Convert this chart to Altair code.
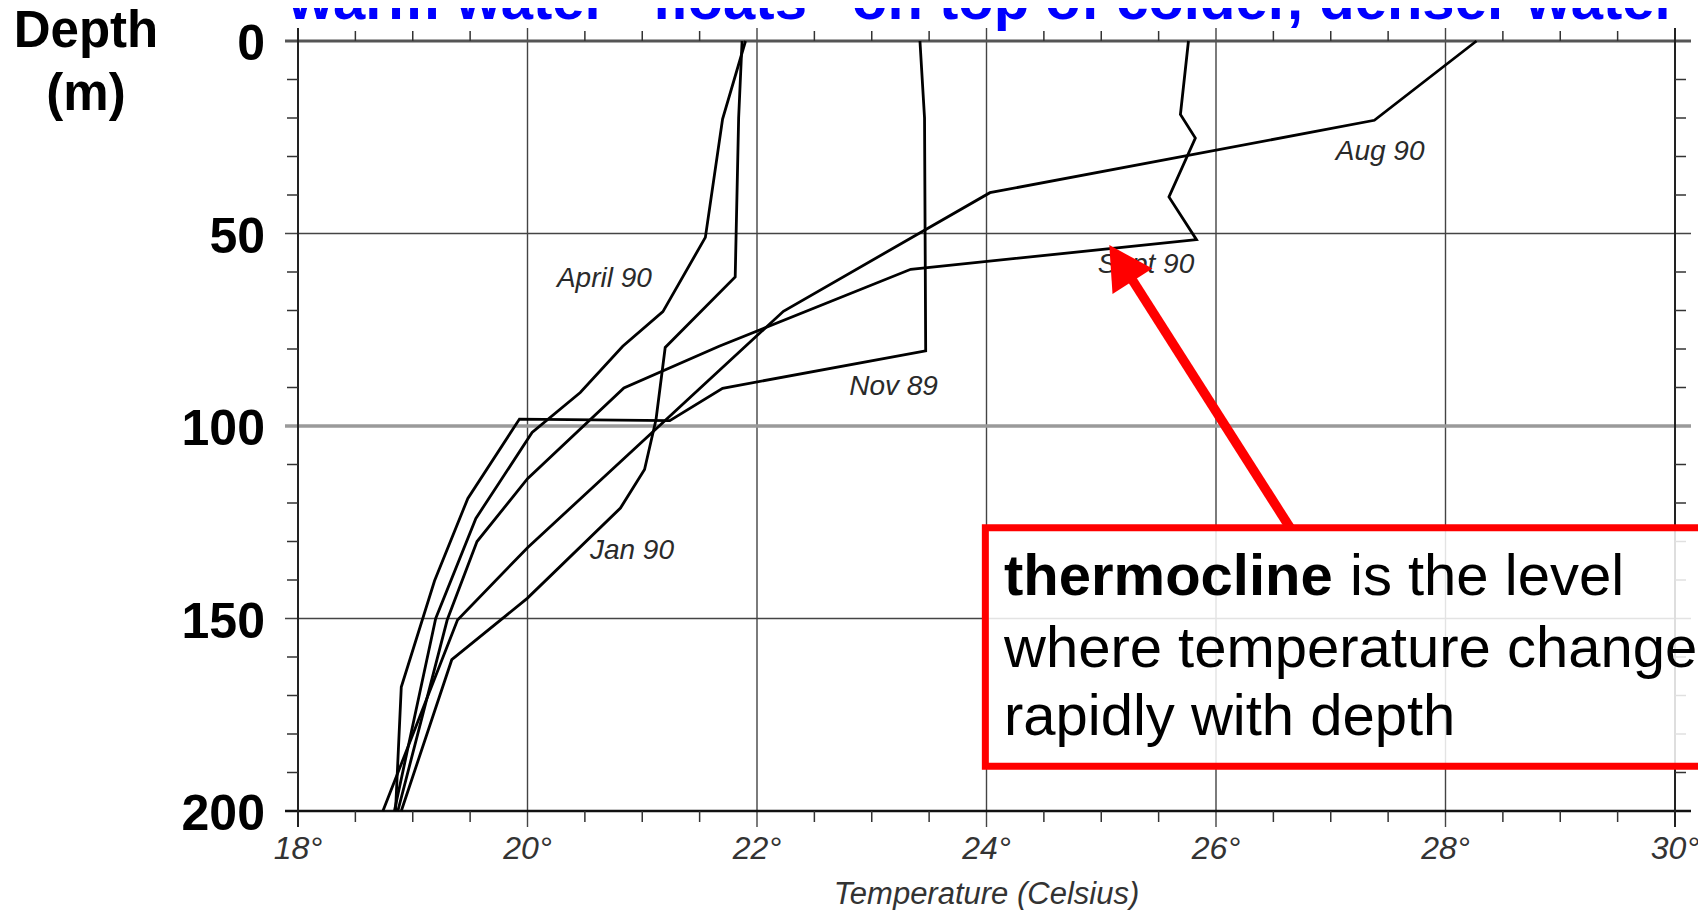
import altair as alt
import pandas as pd
import numpy as np

# ---- temperature profiles (Temperature °C, Depth m) ----
nov89_t = [23.42, 23.46, 23.47, 21.70, 21.24, 19.93, 19.48, 19.19, 18.90, 18.85]
nov89_d = [0, 20, 80.5, 90.2, 98.6, 98.2, 118.8, 140.2, 167.8, 200]
apr90_t = [21.90, 21.70, 21.55, 21.18, 20.83, 20.46, 20.04, 19.55, 19.20, 18.84]
apr90_d = [0, 20.3, 51, 70.3, 79.3, 91.3, 101.7, 124, 150, 200]
jan90_t = [21.87, 21.84, 21.81, 21.20, 21.12, 21.02, 20.81, 20.00, 19.34, 18.90]
jan90_d = [0, 20, 61.3, 79.6, 98.3, 111.3, 121.3, 144.7, 160.7, 200]
aug90_t = [28.27, 27.38, 24.03, 22.23, 20.00, 19.39, 18.74]
aug90_d = [0, 20.6, 39.4, 70.2, 131.6, 150.4, 200]
sep90_t = [25.76, 25.69, 25.82, 25.59, 25.83, 23.34, 21.67, 20.84, 20.00, 19.56, 19.30, 18.87]
sep90_d = [0, 19.1, 25.2, 40.5, 51.6, 59.3, 79.3, 90.1, 113.7, 130, 150.4, 200]

label_text = ["April 90", "Nov 89", "Aug 90", "Sept 90", "Jan 90"]
label_t = [20.67, 23.19, 27.43, 25.39, 20.91]
label_d = [61.8, 89.9, 28.8, 58.2, 132.5]

x_major = [18, 20, 22, 24, 26, 28, 30]
x_major_labels = ["18\u00b0", "20\u00b0", "22\u00b0", "24\u00b0", "26\u00b0", "28\u00b0", "30\u00b0"]
y_major = [0, 50, 100, 150, 200]
y_major_labels = ["0", "50", "100", "150", "200"]
x_minor = [v for v in np.arange(18, 30.01, 0.5) if v % 2 != 0]
y_minor = [v for v in range(0, 201, 10) if v % 50 != 0]

title_text = "warm water \u201cfloats\u201d on top of colder, denser water"

# ---- tables ----
rows = []
for name, ts, ds in [("Nov 89", nov89_t, nov89_d), ("April 90", apr90_t, apr90_d),
                     ("Jan 90", jan90_t, jan90_d), ("Aug 90", aug90_t, aug90_d),
                     ("Sept 90", sep90_t, sep90_d)]:
    for i, (t, d) in enumerate(zip(ts, ds)):
        rows.append({"profile": name, "idx": i, "T": t, "D": d})
prof = pd.DataFrame(rows)
labels = pd.DataFrame({"text": label_text, "T": label_t, "D": label_d})

W, H = 1377, 770
SANS = "Liberation Sans, Arial, sans-serif"

xs = alt.Scale(domain=[18, 30], nice=False, zero=False)
ys = alt.Scale(domain=[0, 200], reverse=True, nice=False, zero=False)

# gridlines / frame
vgrid = alt.Chart(pd.DataFrame({"v": x_major[1:-1]})).mark_rule(color="#444", strokeWidth=1.4).encode(
    x=alt.X("v:Q", scale=xs, axis=None), y=alt.value(-13), y2=alt.value(H + 16))
vframe = alt.Chart(pd.DataFrame({"v": [18, 30]})).mark_rule(color="#222", strokeWidth=2).encode(
    x=alt.X("v:Q", scale=xs, axis=None), y=alt.value(-13), y2=alt.value(H + 16))
hgrid = alt.Chart(pd.DataFrame({"v": [50, 150]})).mark_rule(color="#444", strokeWidth=1.6).encode(
    y=alt.Y("v:Q", scale=ys, axis=None), x=alt.value(-13), x2=alt.value(W + 16))
hgrid100 = alt.Chart(pd.DataFrame({"v": [100]})).mark_rule(color="#9a9a9a", strokeWidth=3.5).encode(
    y=alt.Y("v:Q", scale=ys, axis=None), x=alt.value(-13), x2=alt.value(W + 16))
hframe_top = alt.Chart(pd.DataFrame({"v": [0]})).mark_rule(color="#555", strokeWidth=3).encode(
    y=alt.Y("v:Q", scale=ys, axis=None), x=alt.value(-13), x2=alt.value(W + 16))
hframe_bot = alt.Chart(pd.DataFrame({"v": [200]})).mark_rule(color="#111", strokeWidth=2.5).encode(
    y=alt.Y("v:Q", scale=ys, axis=None), x=alt.value(-13), x2=alt.value(W + 16))

xminor_df = pd.DataFrame({"v": x_minor})
yminor_df = pd.DataFrame({"v": y_minor})
top_ticks = alt.Chart(xminor_df).mark_rule(color="#333", strokeWidth=1.5).encode(
    x=alt.X("v:Q", scale=xs, axis=None), y=alt.value(-10), y2=alt.value(0))
bot_ticks = alt.Chart(xminor_df).mark_rule(color="#333", strokeWidth=1.5).encode(
    x=alt.X("v:Q", scale=xs, axis=None), y=alt.value(H), y2=alt.value(H + 11))
left_ticks = alt.Chart(yminor_df).mark_rule(color="#333", strokeWidth=1.5).encode(
    y=alt.Y("v:Q", scale=ys, axis=None), x=alt.value(-11), x2=alt.value(0))
right_ticks = alt.Chart(yminor_df).mark_rule(color="#333", strokeWidth=1.5).encode(
    y=alt.Y("v:Q", scale=ys, axis=None), x=alt.value(W), x2=alt.value(W + 11))

# axis labels drawn as text from the tick arrays
xlab = alt.Chart(pd.DataFrame({"v": x_major, "lab": x_major_labels})).mark_text(
    font=SANS, fontStyle="italic", fontSize=32, color="#333", align="center", baseline="top").encode(
    x=alt.X("v:Q", scale=xs, axis=None), y=alt.value(H + 23), text="lab:N")
ylab = alt.Chart(pd.DataFrame({"v": y_major, "lab": y_major_labels})).mark_text(
    font=SANS, fontWeight="bold", fontSize=50, color="black", align="right", baseline="middle",
    dy=4).encode(
    y=alt.Y("v:Q", scale=ys, axis=None), x=alt.value(-33), text="lab:N")

lines = alt.Chart(prof).mark_line(color="black", strokeWidth=2.8, strokeJoin="miter").encode(
    x=alt.X("T:Q", scale=xs, axis=None),
    y=alt.Y("D:Q", scale=ys, axis=None),
    detail="profile:N",
    order="idx:Q",
)

series_labels = alt.Chart(labels).mark_text(font=SANS, fontStyle="italic", fontSize=28,
                                            color="#2a2a2a", align="center", baseline="middle").encode(
    x=alt.X("T:Q", scale=xs, axis=None), y=alt.Y("D:Q", scale=ys, axis=None), text="text:N")

# annotation: box + arrow
box = alt.Chart(pd.DataFrame({"t1": [23.99], "t2": [30.8], "d1": [126.4], "d2": [188.4]})).mark_rect(
    fill="white", fillOpacity=0.85, stroke="#ff0000", strokeWidth=7).encode(
    x=alt.X("t1:Q", scale=xs, axis=None), x2="t2:Q",
    y=alt.Y("d1:Q", scale=ys, axis=None), y2="d2:Q")
shaft = alt.Chart(pd.DataFrame({"T": [26.645, 25.263], "D": [126.4, 61.7], "o": [0, 1]})).mark_line(
    color="#ff0000", strokeWidth=9.5, strokeCap="butt").encode(
    x=alt.X("T:Q", scale=xs, axis=None), y=alt.Y("D:Q", scale=ys, axis=None), order="o:Q")
head = alt.Chart(pd.DataFrame({"T": [25.07], "D": [53.0]})).mark_point(
    shape="M0,0L-0.55,1L0.55,1Z", size=7400, angle=327.4, filled=True, color="#ff0000",
    opacity=1, strokeWidth=0).encode(
    x=alt.X("T:Q", scale=xs, axis=None), y=alt.Y("D:Q", scale=ys, axis=None))


def txt(text, x, y, **kw):
    return alt.Chart(pd.DataFrame({"t": [text]})).mark_text(**kw).encode(
        x=alt.value(x), y=alt.value(y), text="t:N")


title = txt(title_text, -10, -22, font=SANS, fontWeight="bold", fontSize=58, color="#0000ff",
            align="left", baseline="alphabetic")
depth1 = txt("Depth", -212, 6, font=SANS, fontWeight="bold", fontSize=51, color="black",
             align="center", baseline="alphabetic")
depth2 = txt("(m)", -212, 69, font=SANS, fontWeight="bold", fontSize=51, color="black",
             align="center", baseline="alphabetic")
xtitle = txt("Temperature (Celsius)", W / 2, 863, font=SANS, fontStyle="italic", fontSize=31,
             color="#333", align="center", baseline="alphabetic")
b1 = txt("thermocline", 706, 554, font=SANS, fontWeight="bold", fontSize=58, color="black",
         align="left", baseline="alphabetic")
b1b = txt("is the level", 1052, 554, font=SANS, fontSize=58, color="black",
          align="left", baseline="alphabetic")
b2 = txt("where temperature changes", 706, 626, font=SANS, fontSize=58, color="black",
         align="left", baseline="alphabetic")
b3 = txt("rapidly with depth", 706, 694, font=SANS, fontSize=58, color="black",
         align="left", baseline="alphabetic")

chart = alt.layer(
    vgrid, hgrid, hgrid100, hframe_top, hframe_bot, vframe,
    top_ticks, bot_ticks, left_ticks, right_ticks, xlab, ylab,
    lines, series_labels,
    shaft, head, box, b1, b1b, b2, b3,
    title, depth1, depth2, xtitle,
).properties(
    width=W, height=H,
    autosize=alt.AutoSizeParams(type="none"),
    padding={"left": 290, "top": 33, "right": 23, "bottom": 99},
    background="white",
).configure_view(stroke=None)

chart.save("out.html", embed_options={"renderer": "svg", "actions": False})
